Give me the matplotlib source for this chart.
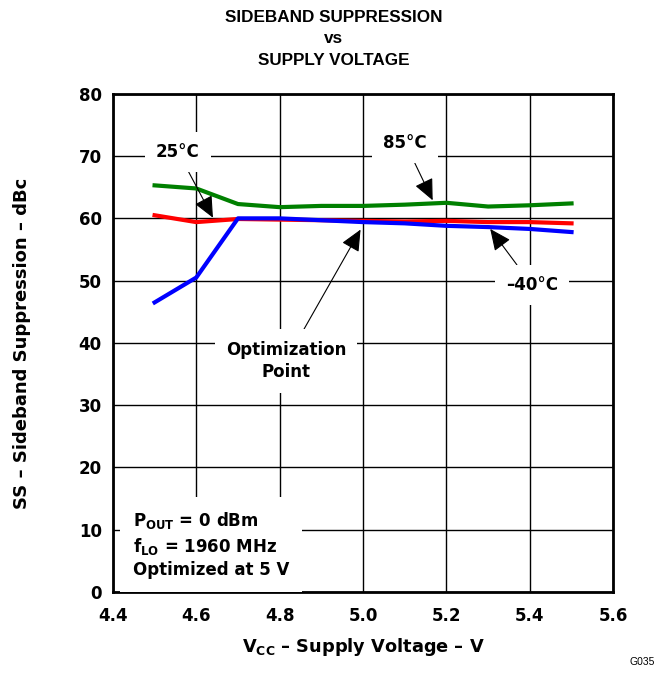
import matplotlib
matplotlib.use("Agg")
import matplotlib.pyplot as plt

plt.rcParams["font.family"] = ["DejaVu Sans"]
plt.rcParams["font.weight"] = "bold"
plt.rcParams["axes.labelweight"] = "bold"
plt.rcParams["mathtext.fontset"] = "custom"
plt.rcParams["mathtext.rm"] = "DejaVu Sans:bold"
plt.rcParams["mathtext.bf"] = "DejaVu Sans:bold"

# supply voltage (V)
vcc = [4.5, 4.6, 4.7, 4.8, 4.9, 5.0, 5.1, 5.2, 5.3, 5.4, 5.5]
# sideband suppression (dBc)
ss_85 = [65.3, 64.8, 62.3, 61.8, 62.0, 62.0, 62.2, 62.5, 61.9, 62.1, 62.4]
ss_25 = [60.5, 59.4, 59.9, 59.8, 59.7, 59.6, 59.5, 59.6, 59.4, 59.4, 59.2]
ss_m40 = [46.5, 50.5, 60.0, 60.0, 59.7, 59.4, 59.2, 58.8, 58.6, 58.3, 57.8]

x_ticks = [4.4, 4.6, 4.8, 5.0, 5.2, 5.4, 5.6]
y_ticks = [0, 10, 20, 30, 40, 50, 60, 70, 80]

fig = plt.figure(figsize=(6.68, 6.75), dpi=100)
ax = fig.add_axes([0.169, 0.123, 0.749, 0.738])

ax.plot(vcc, ss_85, color="#008000", lw=3, zorder=3)
ax.plot(vcc, ss_25, color="#ff0000", lw=3, zorder=3)
ax.plot(vcc, ss_m40, color="#0000ff", lw=3, zorder=4)

ax.set_xlim(4.4, 5.6)
ax.set_ylim(0, 80)
ax.set_xticks(x_ticks)
ax.set_yticks(y_ticks)
ax.set_xticklabels([f"{v:.1f}" for v in x_ticks])
ax.grid(True, color="black", lw=1)
ax.tick_params(length=0, labelsize=12)
ax.tick_params(axis="x", pad=11)
ax.tick_params(axis="y", pad=8)
for s in ax.spines.values():
    s.set_linewidth(2)

ax.set_xlabel(r"V$_{\mathrm{CC}}$ – Supply Voltage – V", fontsize=12.8, labelpad=8)
ax.set_ylabel("SS – Sideband Suppression – dBc", fontsize=13, labelpad=34)

title_font = ["Liberation Sans", "DejaVu Sans"]
fig.text(0.5, 0.974, "SIDEBAND SUPPRESSION", ha="center", va="center",
         fontsize=12.3, family=title_font)
fig.text(0.5, 0.943, "vs", ha="center", va="center", fontsize=12.3, family=title_font)
fig.text(0.5, 0.911, "SUPPLY VOLTAGE", ha="center", va="center",
         fontsize=12.3, family=title_font)
fig.text(0.981, 0.012, "G035", ha="right", va="bottom", fontsize=7.5,
         weight="normal", family=["Liberation Sans"])

box = dict(facecolor="white", edgecolor="none", pad=8)
arrow = dict(arrowstyle="-|>,head_length=1.1,head_width=0.5", color="black",
             lw=0.8, shrinkA=0, shrinkB=0)

ax.annotate("25°C", xy=(4.64, 60.1), xytext=(4.556, 70.7), ha="center",
            va="center", fontsize=12, bbox=box, arrowprops=arrow, zorder=5)
ax.annotate("85°C", xy=(5.167, 62.9), xytext=(5.101, 72.1), ha="center",
            va="center", fontsize=12, bbox=box, arrowprops=arrow, zorder=5)
ax.annotate("–40°C", xy=(5.305, 58.3), xytext=(5.405, 49.3), ha="center",
            va="center", fontsize=12, bbox=box, arrowprops=arrow, zorder=5)
ax.annotate("Optimization\nPoint", xy=(4.994, 58.2), xytext=(4.815, 37.1),
            ha="center", va="center", fontsize=12, bbox=box, arrowprops=arrow,
            linespacing=1.35, zorder=5)

ax.text(4.448, 7.6, "P$_{\\mathrm{OUT}}$ = 0 dBm\nf$_{\\mathrm{LO}}$ = 1960 MHz\nOptimized at 5 V",
        ha="left", va="center", fontsize=12, linespacing=1.3,
        bbox=dict(facecolor="white", edgecolor="none", pad=9), zorder=5)

fig.savefig("out.png", dpi=100)
